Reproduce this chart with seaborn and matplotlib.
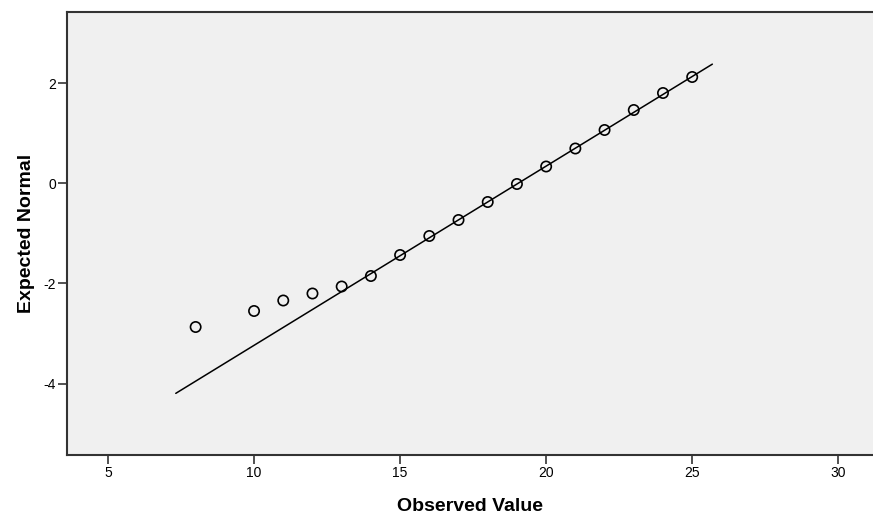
import numpy as np
import pandas as pd
import matplotlib
matplotlib.use("Agg")
import matplotlib.pyplot as plt
import seaborn as sns

observed = [8, 10, 11, 12, 13, 14, 15, 16, 17, 18, 19, 20, 21, 22, 23, 24, 25]
expected = [-2.87, -2.55, -2.34, -2.20, -2.06, -1.85, -1.43, -1.05, -0.73,
            -0.37, -0.01, 0.34, 0.70, 1.07, 1.47, 1.81, 2.13]

# reference normal line: y = (x - mean) / sd
line_mean = 19.03
line_sd = 2.79
line_x = [7.32, 25.69]

x_ticks = [5, 10, 15, 20, 25, 30]
y_ticks = [-4, -2, 0, 2]

sns.set_style("white")
plt.rcParams['font.family'] = ['Liberation Sans', 'DejaVu Sans']
plt.rcParams['axes.unicode_minus'] = False

pts = pd.DataFrame({"Observed Value": observed, "Expected Normal": expected})
ref = pd.DataFrame({"x": line_x})
ref["y"] = (ref["x"] - line_mean) / line_sd

fig = plt.figure(figsize=(8.73, 5.17), dpi=100)
ax = fig.add_axes([67 / 873, 62 / 517, (873 - 67) / 873, 443 / 517])
ax.set_facecolor('#f0f0f0')

sns.lineplot(data=ref, x="x", y="y", color='black', linewidth=1.1, ax=ax)
sns.scatterplot(data=pts, x="Observed Value", y="Expected Normal", ax=ax,
                marker='o', s=55, facecolor='none', edgecolor='black',
                linewidth=1.2, zorder=3)

ax.set_xlim(3.596, 31.19)
ax.set_ylim(-5.43, 3.43)
ax.set_xticks(x_ticks)
ax.set_yticks(y_ticks)
ax.tick_params(axis='both', direction='out', length=6.5, width=1.1,
               color='#222222', labelsize=10, labelcolor='black', pad=1.5,
               bottom=True, left=True)

for side in ['left', 'top', 'bottom']:
    ax.spines[side].set_color('#333333')
    ax.spines[side].set_linewidth(1.5)
ax.spines['right'].set_visible(False)

ax.set_xlabel('Observed Value', fontsize=14, fontweight='bold',
              color='black', labelpad=13)
ax.set_ylabel('Expected Normal', fontsize=14, fontweight='bold',
              color='black', labelpad=6)

fig.savefig('out.png', dpi=100)
